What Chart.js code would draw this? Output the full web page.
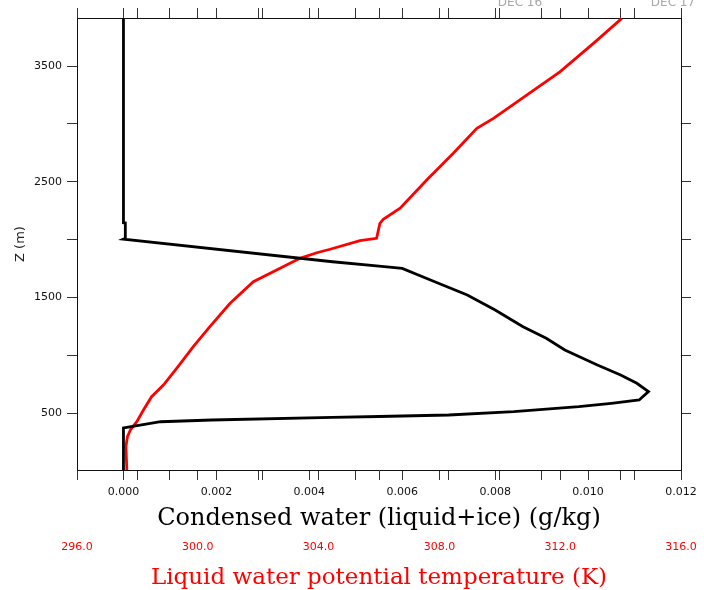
<!DOCTYPE html>
<html><head><meta charset="utf-8">
<script src="https://cdn.jsdelivr.net/npm/chart.js@4"></script>
<style>html,body{margin:0;padding:0;background:#fff;} #wrap{width:704px;height:590px;position:relative}</style>
</head><body><div id="wrap"><canvas id="c" width="704" height="590"></canvas></div>
<script>
// ---- data ----
const zCond = [10, 373, 376, 427, 442, 464, 472, 485, 514, 557, 586, 615, 687, 759, 831, 917, 1047, 1148, 1248, 1392, 1522, 1637, 1752, 1772, 1809, 2005, 2012, 2144, 2146, 3915];
const condWater = [0, 0, 0.00004, 0.0008, 0.0019, 0.0045, 0.0055, 0.0070, 0.0084, 0.0098, 0.0105, 0.0111, 0.0113, 0.01105, 0.0107, 0.0102, 0.0095, 0.0091, 0.0086, 0.0080, 0.0074, 0.0067, 0.0060, 0.0055, 0.0045, 0, 0.00004, 0.00004, 0, 0];
const zTheta = [10, 212, 298, 362, 427, 528, 643, 744, 889, 1075, 1248, 1450, 1637, 1738, 1839, 1887, 1917, 1991, 2012, 2141, 2176, 2271, 2515, 2746, 2962, 3048, 3249, 3450, 3696, 3912];
const thetaL = [297.65, 297.62, 297.67, 297.78, 297.98, 298.20, 298.47, 298.86, 299.30, 299.85, 300.40, 301.07, 301.84, 302.61, 303.38, 303.94, 304.38, 305.37, 305.92, 306.03, 306.14, 306.70, 307.58, 308.46, 309.24, 309.79, 310.89, 311.99, 313.10, 314.04];

const cwTickLabels = ['0.000','0.002','0.004','0.006','0.008','0.010','0.012'];
const thetaTickLabels = ['296.0','300.0','304.0','308.0','312.0','316.0'];
const zTickLabels = ['500','1500','2500','3500'];
const dateLabels = ['DEC 16','DEC 17'];

const cwMin = -0.001, cwMax = 0.012, cwMinor = 0.001;
const thMin = 296, thMax = 316, thMinor = 2;
const zMin = 10, zMax = 3915, zMinor = 500;

function mergedTicks(){
  const t = [];
  for (let i = 0; cwMin + i*cwMinor <= cwMax + 1e-9; i++) t.push(+(cwMin + i*cwMinor).toFixed(6));
  for (let th = thMin; th <= thMax + 1e-9; th += thMinor){
    const v = cwMin + (th - thMin)/(thMax - thMin)*(cwMax - cwMin);
    if (!t.some(a => Math.abs(a - v) < 1e-7)) t.push(v);
  }
  t.sort((a,b)=>a-b);
  return t.map(v => ({value: v}));
}
function findLabel(arr, v, eps){ const l = arr.find(s => Math.abs(parseFloat(s) - v) < eps); return l || ''; }

const tickFont = {family: 'DejaVu Sans', size: 11};
const serif = 'DejaVu Serif';

const datePlugin = {
  id: 'dates',
  afterDraw(chart){
    const ctx = chart.ctx, a = chart.chartArea;
    ctx.save();
    ctx.fillStyle = '#a8a8a8';
    ctx.font = '12px "DejaVu Sans"';
    ctx.textAlign = 'center';
    ctx.textBaseline = 'alphabetic';
    ctx.fillText(dateLabels[0], a.left + 443, 6);
    ctx.fillText(dateLabels[1], a.left + 596, 6);
    ctx.restore();
  }
};

new Chart(document.getElementById('c'), {
  type: 'scatter',
  data: {
    datasets: [
      {data: condWater.map((v,i)=>({x: v, y: zCond[i]})), xAxisID: 'x', yAxisID: 'y',
       showLine: true, borderColor: '#000', borderWidth: 2.8, pointRadius: 0, tension: 0},
      {data: thetaL.map((v,i)=>({x: v, y: zTheta[i]})), xAxisID: 'x2', yAxisID: 'y',
       showLine: true, borderColor: '#ff0000', borderWidth: 2.8, pointRadius: 0, tension: 0}
    ]
  },
  options: {
    responsive: false, animation: false, devicePixelRatio: 1,
    layout: {padding: 0},
    plugins: {legend: {display: false}, tooltip: {enabled: false}},
    scales: {
      x: {
        type: 'linear', position: 'bottom', weight: 0, min: cwMin, max: cwMax,
        afterBuildTicks: s => { s.ticks = mergedTicks(); },
        afterFit: s => { s.height = 61; },
        ticks: {autoSkip: false, maxRotation: 0, minRotation: 0, padding: 6, color: '#111', font: tickFont,
                callback: v => findLabel(cwTickLabels, v, 1e-7)},
        grid: {drawOnChartArea: false, drawTicks: true, tickLength: 10, tickColor: '#333'},
        border: {display: true, color: '#111', width: 1},
        title: {display: true, text: 'Condensed water (liquid+ice) (g/kg)', color: '#000',
                font: {family: serif, size: 24, lineHeight: 1}, padding: {top: 0, bottom: 0}}
      },
      x2: {
        type: 'linear', position: 'bottom', weight: 1, min: thMin, max: thMax,
        afterBuildTicks: s => { s.ticks = thetaTickLabels.map(l => ({value: parseFloat(l)})); },
        afterFit: s => { s.height = 59; },
        ticks: {autoSkip: false, maxRotation: 0, minRotation: 0, padding: 4, color: '#ff0000', font: tickFont,
                callback: v => findLabel(thetaTickLabels, v, 1e-6)},
        grid: {display: true, drawOnChartArea: false, drawTicks: true, tickLength: 6, tickColor: 'rgba(0,0,0,0)', color: 'rgba(0,0,0,0)'},
        border: {display: false},
        title: {display: true, text: 'Liquid water potential temperature (K)', color: '#ff0000',
                font: {family: serif, size: 23, lineHeight: 1}, padding: {top: 0, bottom: 0}}
      },
      xTop: {
        type: 'linear', position: 'top', min: cwMin, max: cwMax,
        afterBuildTicks: s => { s.ticks = mergedTicks(); },
        afterFit: s => { s.height = 18; },
        ticks: {display: false, autoSkip: false},
        grid: {drawOnChartArea: false, drawTicks: true, tickLength: 10, tickColor: '#333'},
        border: {display: true, color: '#111', width: 1}
      },
      y: {
        type: 'linear', position: 'left', min: zMin, max: zMax,
        afterBuildTicks: s => { const t=[]; for (let v = zMinor; v <= 3500; v += zMinor) t.push({value: v}); s.ticks = t; },
        afterFit: s => { s.width = 77; },
        ticks: {autoSkip: false, padding: 5, color: '#111', font: tickFont,
                callback: v => findLabel(zTickLabels, v, 1e-6)},
        grid: {drawOnChartArea: false, drawTicks: true, tickLength: 10, tickColor: '#333'},
        border: {display: true, color: '#111', width: 1},
        title: {display: true, text: 'Z (m)', color: '#222', font: {family: 'DejaVu Sans', size: 13},
                padding: {top: 13, bottom: 0}}
      },
      yR: {
        type: 'linear', position: 'right', min: zMin, max: zMax,
        afterBuildTicks: s => { const t=[]; for (let v = zMinor; v <= 3500; v += zMinor) t.push({value: v}); s.ticks = t; },
        afterFit: s => { s.width = 23; },
        ticks: {display: false, autoSkip: false},
        grid: {drawOnChartArea: false, drawTicks: true, tickLength: 10, tickColor: '#333'},
        border: {display: true, color: '#111', width: 1}
      }
    }
  },
  plugins: [datePlugin]
});
</script>
</body></html>
